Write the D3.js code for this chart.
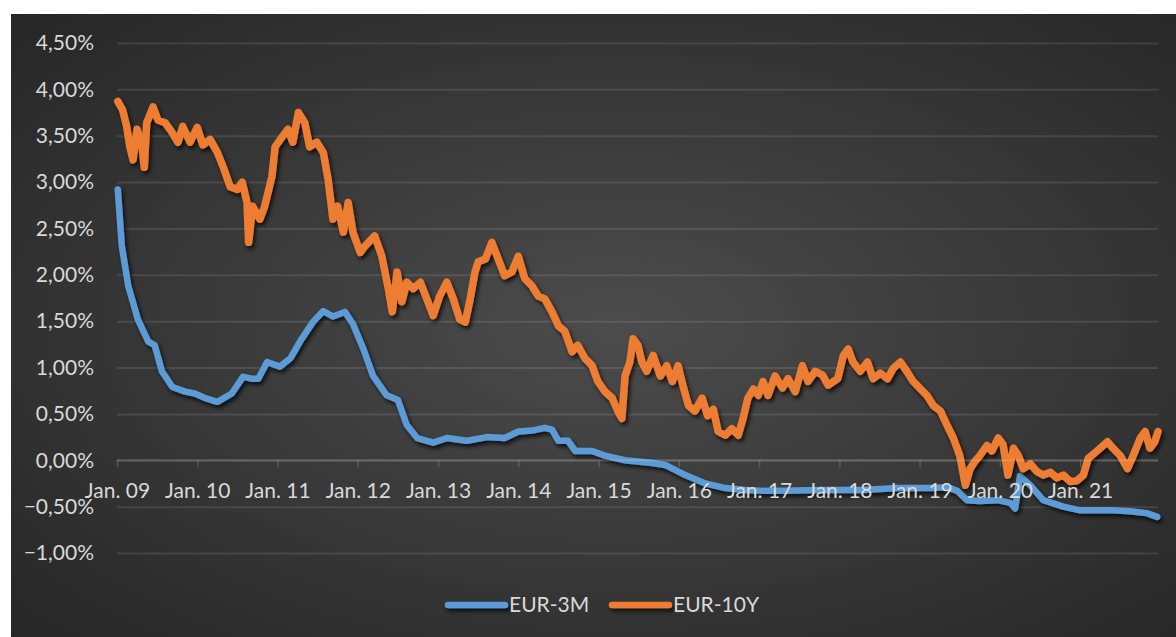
<!DOCTYPE html>
<html>
<head>
<meta charset="utf-8">
<script src="https://cdn.jsdelivr.net/npm/d3@7"></script>
<style>
  html, body { margin: 0; padding: 0; background: #ffffff; }
  svg { display: block; }
  text { font-family: Lato, "Noto Sans", sans-serif; }
</style>
</head>
<body>
<svg id="chart" width="1176" height="637"></svg>
<script>
// ---- data (time as decimal year, values in %) ----
const yearTicks = [2009, 2010, 2011, 2012, 2013, 2014, 2015, 2016, 2017, 2018, 2019, 2020, 2021];
const yTicks = [-1, -0.5, 0, 0.5, 1, 1.5, 2, 2.5, 3, 3.5, 4, 4.5];
const seriesNames = ["EUR-3M", "EUR-10Y"];

const t3M = [2009.01, 2009.06, 2009.14, 2009.26, 2009.39, 2009.47, 2009.56, 2009.69, 2009.85, 2009.97,
  2010.10, 2010.25, 2010.43, 2010.57, 2010.68, 2010.76, 2010.87, 2011.03, 2011.16, 2011.28,
  2011.44, 2011.57, 2011.69, 2011.84, 2011.94, 2012.07, 2012.19, 2012.36, 2012.50, 2012.61,
  2012.74, 2012.94, 2013.11, 2013.36, 2013.61, 2013.83, 2014.00, 2014.17, 2014.33, 2014.42,
  2014.50, 2014.62, 2014.71, 2014.92, 2015.08, 2015.33, 2015.67, 2015.83, 2016.08, 2016.33,
  2016.58, 2016.83, 2017.07, 2017.32, 2017.74, 2018.07, 2018.30, 2018.72, 2019.13, 2019.34,
  2019.47, 2019.59, 2019.75, 2019.97, 2020.13, 2020.19, 2020.25, 2020.38, 2020.54, 2020.79,
  2021.00, 2021.41, 2021.62, 2021.83, 2021.96];
const eur3M = [2.92, 2.31, 1.88, 1.52, 1.28, 1.24, 0.96, 0.79, 0.74, 0.72,
  0.67, 0.63, 0.72, 0.90, 0.88, 0.88, 1.06, 1.01, 1.10, 1.28,
  1.49, 1.61, 1.55, 1.60, 1.47, 1.20, 0.91, 0.70, 0.65, 0.38,
  0.24, 0.19, 0.24, 0.21, 0.25, 0.24, 0.31, 0.32, 0.35, 0.33,
  0.21, 0.21, 0.10, 0.10, 0.05, 0.00, -0.03, -0.05, -0.16, -0.25,
  -0.30, -0.32, -0.33, -0.33, -0.32, -0.32, -0.32, -0.30, -0.30, -0.29,
  -0.33, -0.43, -0.44, -0.43, -0.46, -0.52, -0.17, -0.27, -0.43, -0.50,
  -0.54, -0.54, -0.55, -0.57, -0.61];

const t10Y = [2009.01, 2009.07, 2009.12, 2009.16, 2009.20, 2009.25, 2009.31, 2009.34, 2009.37, 2009.45,
  2009.51, 2009.60, 2009.69, 2009.76, 2009.82, 2009.91, 2010.00, 2010.07, 2010.16, 2010.25,
  2010.32, 2010.41, 2010.50, 2010.56, 2010.62, 2010.64, 2010.69, 2010.78, 2010.84, 2010.93,
  2010.97, 2011.06, 2011.13, 2011.19, 2011.26, 2011.34, 2011.40, 2011.49, 2011.57, 2011.63,
  2011.69, 2011.75, 2011.82, 2011.88, 2011.94, 2012.03, 2012.09, 2012.21, 2012.30, 2012.38,
  2012.43, 2012.49, 2012.55, 2012.61, 2012.69, 2012.78, 2012.86, 2012.94, 2013.02, 2013.11,
  2013.19, 2013.27, 2013.34, 2013.40, 2013.46, 2013.50, 2013.59, 2013.67, 2013.75, 2013.83,
  2013.92, 2014.00, 2014.08, 2014.17, 2014.25, 2014.33, 2014.42, 2014.50, 2014.58, 2014.67,
  2014.74, 2014.83, 2014.92, 2014.99, 2015.08, 2015.17, 2015.24, 2015.29, 2015.33, 2015.39,
  2015.43, 2015.49, 2015.54, 2015.60, 2015.68, 2015.77, 2015.85, 2015.92, 2015.99, 2016.05,
  2016.12, 2016.20, 2016.29, 2016.36, 2016.43, 2016.49, 2016.58, 2016.66, 2016.74, 2016.80,
  2016.86, 2016.93, 2016.99, 2017.05, 2017.11, 2017.20, 2017.29, 2017.36, 2017.45, 2017.54,
  2017.61, 2017.70, 2017.79, 2017.86, 2017.98, 2018.05, 2018.11, 2018.17, 2018.26, 2018.35,
  2018.42, 2018.51, 2018.60, 2018.67, 2018.76, 2018.84, 2018.92, 2019.01, 2019.09, 2019.17,
  2019.26, 2019.34, 2019.42, 2019.50, 2019.57, 2019.63, 2019.69, 2019.75, 2019.84, 2019.90,
  2019.98, 2020.04, 2020.10, 2020.17, 2020.23, 2020.29, 2020.38, 2020.46, 2020.54, 2020.63,
  2020.71, 2020.79, 2020.88, 2020.96, 2021.04, 2021.10, 2021.21, 2021.34, 2021.41, 2021.50,
  2021.59, 2021.66, 2021.75, 2021.81, 2021.87, 2021.93, 2021.97];
const eur10Y = [3.87, 3.78, 3.60, 3.38, 3.24, 3.57, 3.40, 3.16, 3.64, 3.81,
  3.67, 3.64, 3.53, 3.43, 3.60, 3.43, 3.59, 3.40, 3.46, 3.32,
  3.17, 2.95, 2.92, 3.00, 2.78, 2.35, 2.74, 2.60, 2.74, 3.06,
  3.38, 3.49, 3.57, 3.43, 3.75, 3.64, 3.38, 3.43, 3.32, 3.03,
  2.60, 2.74, 2.46, 2.78, 2.46, 2.24, 2.31, 2.42, 2.20, 1.85,
  1.60, 2.03, 1.71, 1.92, 1.85, 1.92, 1.74, 1.56, 1.77, 1.92,
  1.74, 1.52, 1.49, 1.74, 2.03, 2.14, 2.17, 2.35, 2.17, 1.99,
  2.03, 2.20, 1.96, 1.88, 1.77, 1.74, 1.60, 1.45, 1.39, 1.17,
  1.24, 1.10, 1.02, 0.85, 0.74, 0.67, 0.53, 0.45, 0.91, 1.06,
  1.31, 1.24, 1.06, 0.96, 1.13, 0.91, 1.02, 0.85, 1.02, 0.81,
  0.59, 0.53, 0.67, 0.48, 0.55, 0.31, 0.27, 0.34, 0.27, 0.45,
  0.67, 0.77, 0.70, 0.85, 0.70, 0.91, 0.78, 0.88, 0.74, 1.02,
  0.85, 0.96, 0.92, 0.81, 0.88, 1.13, 1.20, 1.06, 0.96, 1.06,
  0.88, 0.94, 0.88, 0.99, 1.06, 0.96, 0.85, 0.77, 0.70, 0.59,
  0.53, 0.38, 0.24, 0.05, -0.27, -0.09, -0.01, 0.05, 0.16, 0.10,
  0.24, 0.17, -0.16, 0.13, 0.05, -0.09, -0.04, -0.12, -0.16, -0.13,
  -0.19, -0.16, -0.23, -0.22, -0.16, 0.02, 0.10, 0.20, 0.13, 0.05,
  -0.09, 0.05, 0.24, 0.31, 0.13, 0.20, 0.31];

// ---- drawing ----
const svg = d3.select("#chart");
const W = 1176, H = 637;
const colors = ["#5b9bd5", "#ed7d31"];
const FONT = "Lato, 'Noto Sans', sans-serif";

const defs = svg.append("defs");
const grad = defs.append("radialGradient").attr("id", "bg")
  .attr("cx", "0.52").attr("cy", "0.5").attr("r", "0.72");
grad.append("stop").attr("offset", "0%").attr("stop-color", "#4c4c4c");
grad.append("stop").attr("offset", "100%").attr("stop-color", "#262626");
const filt = defs.append("filter").attr("id", "shadow")
  .attr("filterUnits", "userSpaceOnUse")
  .attr("x", 0).attr("y", 0).attr("width", W).attr("height", H);
filt.append("feDropShadow").attr("dx", 2).attr("dy", 3).attr("stdDeviation", 2.2)
  .attr("flood-color", "#000").attr("flood-opacity", 0.75);

svg.append("rect").attr("x", 11).attr("y", 14).attr("width", W - 11).attr("height", H - 14)
  .attr("fill", "url(#bg)");

const x = d3.scaleLinear().domain([2009, 2021.97]).range([117, 1158]);
const y = d3.scaleLinear().domain([-1, 4.5]).range([553, 43]);

// gridlines
svg.append("g")
  .attr("transform", `translate(${x.range()[0]},0)`)
  .call(d3.axisLeft(y).tickValues(yTicks).tickSize(-(x.range()[1] - x.range()[0])).tickFormat(""))
  .call(g => g.select(".domain").remove())
  .call(g => g.selectAll("line").attr("stroke", "#ffffff").attr("stroke-opacity", 0.1).attr("stroke-width", 2));

// y labels
svg.append("g")
  .attr("transform", `translate(${x.range()[0]},0)`)
  .call(d3.axisLeft(y).tickValues(yTicks).tickSize(0).tickPadding(23)
    .tickFormat(d => d3.format(".2f")(d).replace(".", ",") + "%"))
  .call(g => g.select(".domain").remove())
  .call(g => g.selectAll("text").attr("fill", "#d9d9d9").style("font-size", "21px")
    .style("font-family", FONT));

// series lines
const line = d3.line().x(d => x(d[0])).y(d => y(d[1]));
const seriesData = [
  t3M.map((t, i) => [t, eur3M[i]]),
  t10Y.map((t, i) => [t, eur10Y[i]])
];
const widths = [6.5, 7.5];
seriesData.forEach((data, i) => {
  svg.append("path").datum(data)
    .attr("d", line)
    .attr("fill", "none")
    .attr("stroke", colors[i])
    .attr("stroke-width", widths[i])
    .attr("stroke-linejoin", "round")
    .attr("stroke-linecap", "round")
    .attr("filter", "url(#shadow)");
});

// x axis at zero
svg.append("g")
  .attr("transform", `translate(0,${y(0)})`)
  .call(d3.axisBottom(x).tickValues(yearTicks).tickSize(7).tickPadding(16)
    .tickFormat(d => "Jan. " + String(d).slice(2)))
  .call(g => g.select(".domain").attr("stroke", "#ffffff").attr("stroke-opacity", 0.16).attr("stroke-width", 2)
    .attr("d", `M${x.range()[0]},0H${x.range()[1]}`))
  .call(g => g.selectAll("line").attr("stroke", "#ffffff").attr("stroke-opacity", 0.16).attr("stroke-width", 1.5))
  .call(g => g.selectAll("text").attr("fill", "#d9d9d9").style("font-size", "21px")
    .style("font-family", FONT));

// legend
const legendItems = [
  { name: seriesNames[0], x1: 448, x2: 505, tx: 509 },
  { name: seriesNames[1], x1: 612, x2: 669, tx: 673 }
];
const lg = svg.append("g");
legendItems.forEach((it, i) => {
  lg.append("line").attr("x1", it.x1).attr("x2", it.x2).attr("y1", 605).attr("y2", 605)
    .attr("stroke", colors[i]).attr("stroke-width", 6.5).attr("stroke-linecap", "round")
    .attr("filter", "url(#shadow)");
  lg.append("text").attr("x", it.tx).attr("y", 605).attr("dy", "0.35em")
    .attr("fill", "#d9d9d9").style("font-size", "21px").style("font-family", FONT).text(it.name);
});
</script>
</body>
</html>
